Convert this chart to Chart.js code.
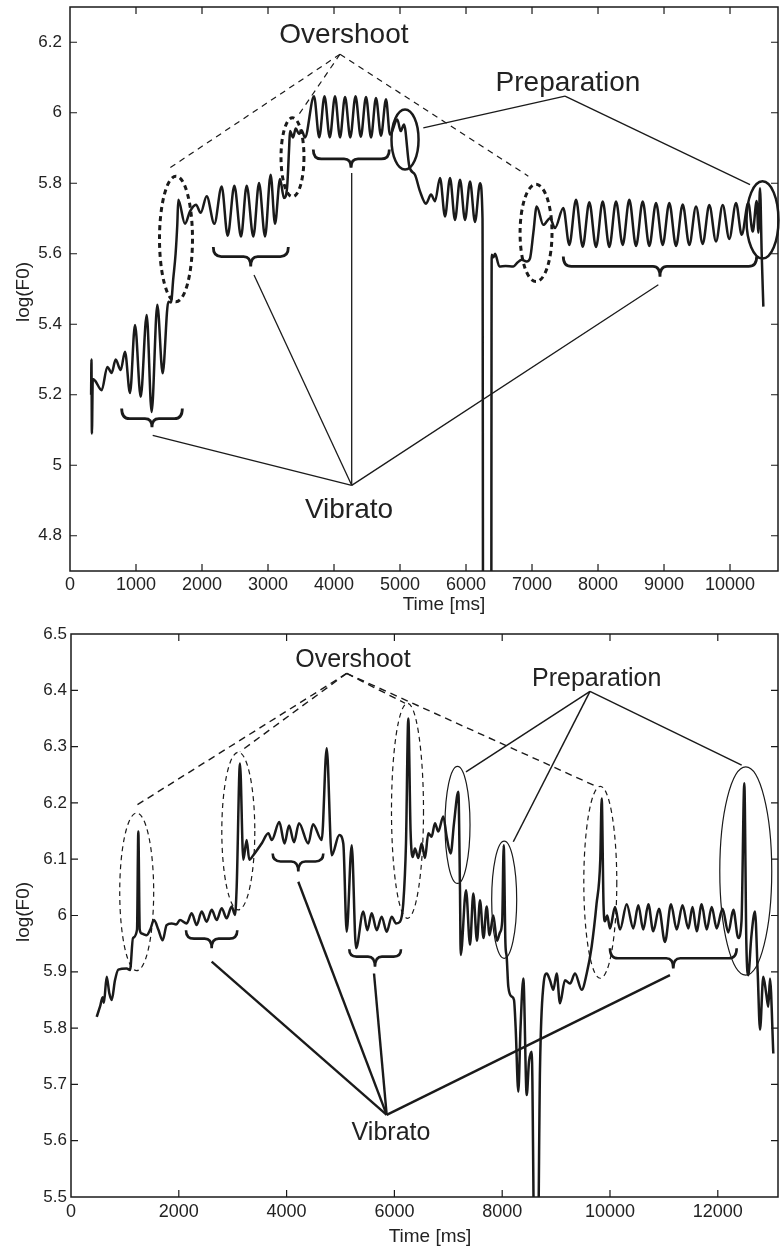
<!DOCTYPE html>
<html><head><meta charset="utf-8">
<script src="https://cdn.jsdelivr.net/npm/chart.js@4.4.1/dist/chart.umd.min.js"></script>
<style>
html,body{margin:0;padding:0;background:#fff;}
#wrap{position:relative;width:780px;height:1252px;background:#fff;}
#c1{position:absolute;left:0;top:0;}
#c2{position:absolute;left:0;top:620px;}
</style></head><body>
<div id="wrap"><canvas id="c1" width="780" height="620"></canvas><canvas id="c2" width="780" height="632"></canvas></div>
<script>
// ---------- data ----------
const topTimeMs = [320,325,332,345,380, 480,566,631,692,768, 833,909,985,1071,1162, 1237,1323,1404,1490,1530,
 1565,1600,1625,1641,1742, 1818,1909,1980,2071,2187, 2298,2389,2490,2591,2677, 2778,2864,2955,3040,3106,
 3182,3242,3290,3320,3333, 3380,3420,3470,3510,3560, 3697,3776,3856,3936,4015, 4091,4167,4247,4326,4406,
 4485,4561,4636,4712,4788, 4848,4959,5010,5061,5141, 5227,5303,5394,5470,5530, 5606,5682,5758,5833,5909,
 5985,6061,6136,6212,6250, 6262,6380,6389,6414,6440, 6505,6600,6717,6780,6843, 6919,6970,7020,7071,7172,
 7273,7348,7474,7565,7667, 7768,7868,7970,8071,8171, 8273,8374,8474,8576,8677, 8777,8879,8980,9080,9182,
 9283,9383,9485,9586,9686, 9788,9889,9989,10091,10177, 10277,10344,10404,10430,10455, 10480,10505];
const topLogF0 = [5.20,5.30,5.09,5.245,5.24, 5.213,5.279,5.262,5.300,5.270, 5.322,5.205,5.398,5.194,5.426, 5.151,5.455,5.261,5.464,5.462,
 5.53,5.60,5.68,5.753,5.685, 5.72,5.739,5.716,5.763,5.685, 5.791,5.651,5.793,5.649,5.793, 5.649,5.801,5.649,5.824,5.685,
 5.812,5.758,5.79,5.90,5.948, 5.93,5.955,5.94,5.95,5.93, 6.047,5.93,6.047,5.93,6.047, 5.93,6.045,5.93,6.047,5.932,
 6.045,5.93,6.042,5.935,6.038, 5.938,5.981,5.948,5.967,5.848, 5.824,5.777,5.742,5.768,5.749, 5.815,5.706,5.815,5.696,5.81,
 5.696,5.805,5.69,5.80,5.70, 4.0,4.0,5.597,5.59,5.60, 5.564,5.565,5.564,5.575,5.583, 5.578,5.587,5.659,5.734,5.682,
 5.701,5.673,5.730,5.625,5.753, 5.620,5.746,5.619,5.748,5.619, 5.748,5.625,5.753,5.622,5.748, 5.622,5.744,5.625,5.744,5.622,
 5.740,5.625,5.734,5.628,5.738, 5.635,5.738,5.642,5.744,5.654, 5.744,5.663,5.75,5.66,5.786, 5.60,5.45];

const bottomTimeMs = [477,538,588,610,662, 711,755,816,878,1033, 1095,1150,1225,1249,1275, 1311,1404,1470,1540,1620,
 1701,1774,1868,1950,2022, 2146,2239,2332,2424,2517, 2610,2703,2795,2888,2981, 3043,3074,3135,3197,3259,
 3308,3382,3538,3661,3724, 3865,3961,4045,4137,4230, 4403,4490,4651,4744,4837, 4978,5052,5115,5208,5288,
 5423,5497,5579,5672,5764, 5857,5950,6030,6104,6165, 6215,6258,6300,6340,6382, 6443,6506,6568,6629,6690,
 6753,6814,6907,6970,7044, 7106,7186,7217,7230,7329, 7403,7464,7532,7588,7653, 7712,7764,7835,7903,7959,
 8000,8028,8060,8083,8113, 8176,8219,8250,8299,8340, 8392,8455,8497,8547,8609, 8651,8701,8763,8826,8887,
 8948,9011,9072,9165,9258, 9351,9475,9568,9660,9750, 9820,9846,9880,9907,9950, 10000,10093,10186,10310,10432,
 10525,10618,10711,10803,10909, 11020,11132,11237,11345,11453, 11531,11608,11701,11794,11887, 11980,12087,12195,12288,12380,
 12440,12492,12530,12566,12620, 12690,12740,12783,12844,12900, 12937,12968,13030];
const bottomLogF0 = [5.820,5.838,5.855,5.845,5.891, 5.862,5.85,5.885,5.904,5.906, 5.903,5.96,5.975,6.149,5.975, 5.968,5.965,5.975,5.992,5.975,
 5.956,5.983,5.986,5.984,5.992, 5.986,6.004,5.983,6.007,5.989, 6.010,5.992,6.013,5.995,6.016, 6.001,6.051,6.270,6.099,6.134,
 6.099,6.107,6.128,6.146,6.134, 6.166,6.128,6.16,6.13,6.164, 6.128,6.162,6.134,6.297,6.107, 6.143,6.128,5.971,6.125,5.942,
 6.007,5.974,6.004,5.974,5.998, 5.971,5.998,5.986,5.989,6.022, 6.128,6.350,6.15,6.104,6.119, 6.102,6.128,6.102,6.146,6.14,
 6.164,6.149,6.176,6.14,6.110, 6.164,6.220,6.045,5.93,6.045, 5.948,6.039,5.955,6.027,5.96, 6.016,5.965,6.000,5.955,5.97,
 5.99,6.125,5.95,5.927,5.874, 5.856,5.85,5.80,5.687,5.80, 5.888,5.681,5.74,5.758,5.3, 5.3,5.726,5.874,5.897,5.885,
 5.868,5.897,5.844,5.885,5.879, 5.897,5.868,5.897,5.945,6.02, 6.10,6.208,6.02,5.99,6.0, 5.977,6.015,5.975,6.02,5.977,
 6.018,5.975,6.02,5.972,6.012, 5.953,6.02,5.975,6.018,5.977, 6.015,5.972,6.02,5.975,6.015, 5.977,6.012,5.97,6.01,5.96,
 5.99,6.235,5.95,5.894,5.96, 6.007,5.9,5.797,5.891,5.86, 5.838,5.888,5.755];

const topXTicks = [0,1000,2000,3000,4000,5000,6000,7000,8000,9000,10000];
const topYTicks = [4.8,5,5.2,5.4,5.6,5.8,6,6.2];
const bottomXTicks = [0,2000,4000,6000,8000,10000,12000];
const bottomYTicks = [5.5,5.6,5.7,5.8,5.9,6,6.1,6.2,6.3,6.4,6.5];

// annotation geometry, in data units (ms, log F0)
const topNotes = [
 {kind:'fan', dash:[6,5], width:1.2, apex:[4091,6.166], ends:[[1515,5.844],[3435,5.986],[6944,5.820]]},
 {kind:'ellipse', dash:[5,4], width:3, items:[[1606,5.642,250,0.178],[3371,5.874,174,0.112],[7061,5.659,242,0.138]]},
 {kind:'ellipse', width:2.5, items:[[5076,5.924,205,0.0853],[10492,5.696,242,0.1095]]},
 {kind:'fan', width:1.3, apex:[7500,6.047], ends:[[5353,5.957],[10303,5.796]]},
 {kind:'brace', width:2.8, items:[[783,1702,1242,5.161,5.132,5.108],[2171,3308,2738,5.619,5.592,5.564],[3686,4838,4258,5.896,5.869,5.844],[7474,10404,8939,5.592,5.564,5.535]]},
 {kind:'fan', width:1.3, apex:[4268,4.943], ends:[[1253,5.085],[2788,5.540],[4268,5.829],[8914,5.512]]},
 {kind:'text', size:28, items:[['Overshoot',4150,6.197],['Preparation',7545,6.061],['Vibrato',4227,4.849]]}
];
const bottomNotes = [
 {kind:'fan', dash:[7,5], width:1.4, apex:[5115,6.430], ends:[[1219,6.196],[3135,6.291],[6197,6.377],[9753,6.229]]},
 {kind:'ellipse', dash:[5,4], width:1.2, items:[[1219,6.042,315,0.140],[3104,6.150,306,0.140],[6243,6.186,297,0.191],[9820,6.059,306,0.1705]]},
 {kind:'ellipse', width:1.2, items:[[7171,6.161,232,0.104],[8037,6.028,232,0.104],[12519,6.079,482,0.185]]},
 {kind:'fan', width:1.5, apex:[9629,6.398], ends:[[7328,6.255],[8206,6.131],[12443,6.267]]},
 {kind:'brace', width:2.6, items:[[2134,3085,2610,5.974,5.959,5.942],[3742,4681,4217,6.110,6.096,6.078],[5163,6122,5640,5.940,5.927,5.909],[10000,12350,11174,5.942,5.924,5.906]]},
 {kind:'fan', width:2.4, apex:[5857,5.646], ends:[[2610,5.918],[4217,6.060],[5622,5.897],[11113,5.894]]},
 {kind:'text', size:25, items:[['Overshoot',5232,6.441],['Preparation',9753,6.408],['Vibrato',5937,5.601]]}
];

// ---------- drawing ----------
const INK = '#1a1a1a';
const FONT = '"Liberation Sans", Arial, Helvetica, sans-serif';
Chart.defaults.font.family = FONT;
Chart.defaults.color = '#222';

function makeFigurePlugin(notes, xTicks, yTicks, titles) {
  return {
    id: 'figure',
    afterDatasetsDraw(chart) {
      const ctx = chart.ctx, xs = chart.scales.x, ys = chart.scales.y;
      const P = (p) => [xs.getPixelForValue(p[0]), ys.getPixelForValue(p[1])];
      ctx.save();
      ctx.strokeStyle = INK; ctx.fillStyle = INK;
      notes.forEach(g => {
        ctx.lineWidth = g.width || 1.2;
        ctx.setLineDash(g.dash || []);
        if (g.kind === 'fan') {
          const [ax, ay] = P(g.apex);
          g.ends.forEach(e => { const [ex, ey] = P(e); ctx.beginPath(); ctx.moveTo(ax, ay); ctx.lineTo(ex, ey); ctx.stroke(); });
        } else if (g.kind === 'ellipse') {
          g.items.forEach(it => {
            const [cx, cy] = P(it);
            const rx = Math.abs(xs.getPixelForValue(it[0] + it[2]) - cx);
            const ry = Math.abs(ys.getPixelForValue(it[1] + it[3]) - cy);
            ctx.beginPath(); ctx.ellipse(cx, cy, rx, ry, 0, 0, Math.PI * 2); ctx.stroke();
          });
        } else if (g.kind === 'brace') {
          g.items.forEach(it => {
            const x1 = xs.getPixelForValue(it[0]), x2 = xs.getPixelForValue(it[1]), xt = xs.getPixelForValue(it[2]);
            const yE = ys.getPixelForValue(it[3]), yF = ys.getPixelForValue(it[4]), yT = ys.getPixelForValue(it[5]);
            const r = Math.min(Math.abs(yF - yE), 8), r2 = 7;
            ctx.beginPath();
            ctx.moveTo(x1, yE);
            ctx.quadraticCurveTo(x1, yF, x1 + r, yF);
            ctx.lineTo(xt - r2, yF);
            ctx.quadraticCurveTo(xt, yF, xt, yT);
            ctx.quadraticCurveTo(xt, yF, xt + r2, yF);
            ctx.lineTo(x2 - r, yF);
            ctx.quadraticCurveTo(x2, yF, x2, yE);
            ctx.stroke();
          });
        } else if (g.kind === 'text') {
          ctx.font = g.size + 'px ' + FONT;
          ctx.fillStyle = '#222';
          ctx.textAlign = 'center'; ctx.textBaseline = 'alphabetic';
          g.items.forEach(it => { const [tx, ty] = P([it[1], it[2]]); ctx.fillText(it[0], tx, ty); });
        }
      });
      ctx.restore();
    },
    afterDraw(chart) {
      const ctx = chart.ctx, a = chart.chartArea, xs = chart.scales.x, ys = chart.scales.y;
      ctx.save();
      ctx.strokeStyle = INK; ctx.setLineDash([]);
      ctx.lineWidth = 1.2;
      const L = 7;
      ctx.beginPath();
      xTicks.forEach(v => {
        const p = xs.getPixelForValue(v);
        if (p < a.left + 1 || p > a.right - 1) return;
        ctx.moveTo(p, a.bottom); ctx.lineTo(p, a.bottom - L);
        ctx.moveTo(p, a.top); ctx.lineTo(p, a.top + L);
      });
      yTicks.forEach(v => {
        const p = ys.getPixelForValue(v);
        if (p < a.top + 1 || p > a.bottom - 1) return;
        ctx.moveTo(a.left, p); ctx.lineTo(a.left + L, p);
        ctx.moveTo(a.right, p); ctx.lineTo(a.right - L, p);
      });
      ctx.stroke();
      ctx.lineWidth = 1.5;
      ctx.strokeRect(a.left, a.top, a.right - a.left, a.bottom - a.top);
      // axis titles
      ctx.fillStyle = '#222';
      ctx.font = titles.size + 'px ' + FONT;
      ctx.textAlign = 'center'; ctx.textBaseline = 'alphabetic';
      ctx.fillText('Time [ms]', titles.xTitleX, titles.xTitleY);
      ctx.translate(titles.yTitleX, titles.yTitleY);
      ctx.rotate(-Math.PI / 2);
      ctx.textBaseline = 'middle';
      ctx.fillText('log(F0)', 0, 0);
      ctx.restore();
    }
  };
}

function zeroPad(s) { s.paddingTop = 0; s.paddingBottom = 0; s.paddingLeft = 0; s.paddingRight = 0; }

function buildChart(id, times, vals, cfg) {
  const pts = times.map((t, i) => ({x: t, y: vals[i]}));
  return new Chart(document.getElementById(id), {
    type: 'line',
    data: { datasets: [{ data: pts, borderColor: INK, borderWidth: 2.5, pointRadius: 0,
      cubicInterpolationMode: 'monotone', fill: false, clip: 0 }] },
    options: {
      responsive: false, animation: false, devicePixelRatio: 1,
      layout: { padding: { left: 0, right: cfg.padRight, top: cfg.padTop, bottom: 0 } },
      plugins: { legend: { display: false }, tooltip: { enabled: false } },
      scales: {
        x: { type: 'linear', min: cfg.xMin, max: cfg.xMax,
             grid: { display: false, drawTicks: false }, border: { display: false },
             afterBuildTicks: s => { s.ticks = cfg.xTicks.map(v => ({value: v})); },
             afterFit: s => { s.height = cfg.xHeight; zeroPad(s); },
             ticks: { autoSkip: false, maxRotation: 0, padding: cfg.xPad, color: '#222',
                      font: { size: 18 }, callback: v => String(v) } },
        y: { type: 'linear', min: cfg.yMin, max: cfg.yMax,
             grid: { display: false, drawTicks: false }, border: { display: false },
             afterBuildTicks: s => { s.ticks = cfg.yTicks.map(v => ({value: v})); },
             afterFit: s => { s.width = cfg.yWidth; zeroPad(s); },
             ticks: { autoSkip: false, padding: cfg.yPad, color: '#222',
                      font: { size: 17 }, callback: v => String(v) } }
      }
    },
    plugins: [makeFigurePlugin(cfg.notes, cfg.xTicks, cfg.yTicks, cfg.titles)]
  });
}

buildChart('c1', topTimeMs, topLogF0, {
  xMin: 0, xMax: 10727, yMin: 4.7, yMax: 6.3, xTicks: topXTicks, yTicks: topYTicks,
  padRight: 2, padTop: 7, xHeight: 49, yWidth: 70, xPad: 3, yPad: 8, notes: topNotes,
  titles: { size: 19, xTitleX: 444, xTitleY: 610, yTitleX: 24, yTitleY: 292 }
});
buildChart('c2', bottomTimeMs, bottomLogF0, {
  xMin: 0, xMax: 13117, yMin: 5.5, yMax: 6.5, xTicks: bottomXTicks, yTicks: bottomYTicks,
  padRight: 2, padTop: 14, xHeight: 55, yWidth: 71, xPad: 4, yPad: 4, notes: bottomNotes,
  titles: { size: 19, xTitleX: 430, xTitleY: 622, yTitleX: 24, yTitleY: 292 }
});
</script>
</body></html>
